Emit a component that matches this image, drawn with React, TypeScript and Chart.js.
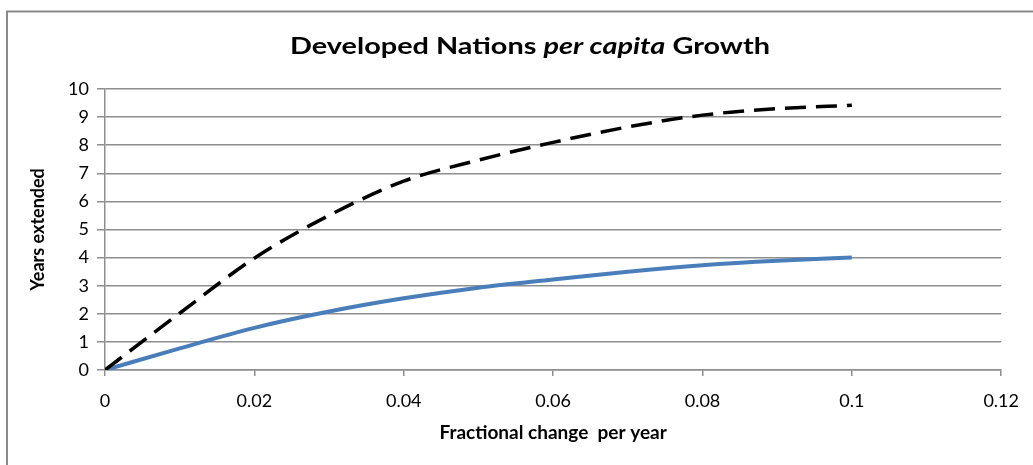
import React, { useEffect, useRef } from "react";
import { Chart, registerables } from "chart.js";

Chart.register(...registerables);

const xValues = [0, 0.01, 0.02, 0.03, 0.04, 0.05, 0.06, 0.07, 0.08, 0.09, 0.1];
const dashedValues = [0, 2.02, 3.98, 5.5, 6.72, 7.47, 8.1, 8.65, 9.07, 9.3, 9.42];
const solidValues = [0, 0.77, 1.5, 2.08, 2.55, 2.93, 3.22, 3.5, 3.73, 3.89, 4.0];
const xTickStep = 0.02;
const yTickStep = 1;

const titleParts = [
  { text: "Developed Nations ", italic: false },
  { text: "per capita", italic: true },
  { text: " Growth", italic: false },
];
const xTitle = "Fractional change  per year";
const yTitle = "Years extended";

const FONT = "Lato, 'Open Sans', sans-serif";
const GRID = "#8e8e8e";

const decorPlugin = {
  id: "decor",
  beforeDraw(chart: any) {
    const ctx = chart.ctx;
    ctx.save();
    ctx.fillStyle = "#ffffff";
    ctx.fillRect(0, 0, chart.width, chart.height);
    ctx.strokeStyle = "#8a8a8a";
    ctx.lineWidth = 2;
    ctx.strokeRect(7, 11.5, chart.width + 10, chart.height + 10);
    ctx.restore();
  },
  afterDraw(chart: any) {
    const ctx = chart.ctx;
    ctx.save();
    ctx.fillStyle = "#000000";
    ctx.textBaseline = "middle";
    const size = 23;
    const widths = titleParts.map((p) => {
      ctx.font = `${p.italic ? "italic " : ""}bold ${size}px ${FONT}`;
      return ctx.measureText(p.text).width;
    });
    const total = widths.reduce((a, b) => a + b, 0);
    const sx = 480 / total;
    ctx.translate(530 - (total * sx) / 2, 47);
    ctx.scale(sx, 1);
    let x = 0;
    titleParts.forEach((p, i) => {
      ctx.font = `${p.italic ? "italic " : ""}bold ${size}px ${FONT}`;
      ctx.fillText(p.text, x, 0);
      x += widths[i];
    });
    ctx.restore();
  },
};

export default function App() {
  const ref = useRef<HTMLCanvasElement | null>(null);
  useEffect(() => {
    if (!ref.current) return;
    const chart = new Chart(ref.current, {
      type: "line",
      data: {
        datasets: [
          {
            label: "Dashed",
            data: xValues.map((x, i) => ({ x, y: dashedValues[i] })),
            borderColor: "#000000",
            borderWidth: 3.5,
            borderDash: [21, 10],
            pointRadius: 0,
            cubicInterpolationMode: "monotone",
            fill: false,
          },
          {
            label: "Solid",
            data: xValues.map((x, i) => ({ x, y: solidValues[i] })),
            borderColor: "#4a7ebb",
            borderWidth: 4,
            pointRadius: 0,
            cubicInterpolationMode: "monotone",
            fill: false,
          },
        ],
      },
      options: {
        animation: false,
        responsive: false,
        maintainAspectRatio: false,
        layout: { padding: { top: 89, right: 31, left: 0, bottom: 0 } },
        plugins: {
          legend: { display: false },
          title: { display: false },
          tooltip: { enabled: false },
        },
        scales: {
          x: {
            type: "linear",
            min: 0,
            max: 0.12,
            ticks: {
              stepSize: xTickStep,
              color: "#000",
              font: { family: FONT, size: 18 },
              padding: 14,
              callback: (v: any) => String(+Number(v).toFixed(2)),
              maxRotation: 0,
            },
            grid: {
              drawOnChartArea: false,
              drawTicks: true,
              tickLength: 6,
              color: GRID,
              lineWidth: 1.5,
            },
            border: { display: true, color: GRID, width: 1.5 },
            title: {
              display: true,
              text: xTitle,
              color: "#000",
              font: { family: FONT, size: 19, weight: "bold" },
              padding: { top: 0, bottom: 21 },
            },
            afterFit: (s: any) => {
              s.height = 95;
            },
          },
          y: {
            type: "linear",
            min: 0,
            max: 10,
            ticks: {
              stepSize: yTickStep,
              color: "#000",
              font: { family: FONT, size: 18 },
              padding: 8,
            },
            grid: {
              color: GRID,
              lineWidth: 1.5,
              tickLength: 8,
            },
            border: { display: true, color: GRID, width: 1.5 },
            title: {
              display: true,
              text: yTitle,
              color: "#000",
              font: { family: FONT, size: 18, weight: "bold" },
              padding: { top: 27, bottom: 0 },
            },
            afterFit: (s: any) => {
              s.width = 105;
            },
          },
        },
      },
      plugins: [decorPlugin],
    } as any);
    return () => chart.destroy();
  }, []);
  return (
    <div style={{ position: "fixed", left: 0, top: 0, width: 1033, height: 465, background: "#fff" }}>
      <canvas ref={ref} width={1033} height={465} style={{ display: "block" }} />
    </div>
  );
}
